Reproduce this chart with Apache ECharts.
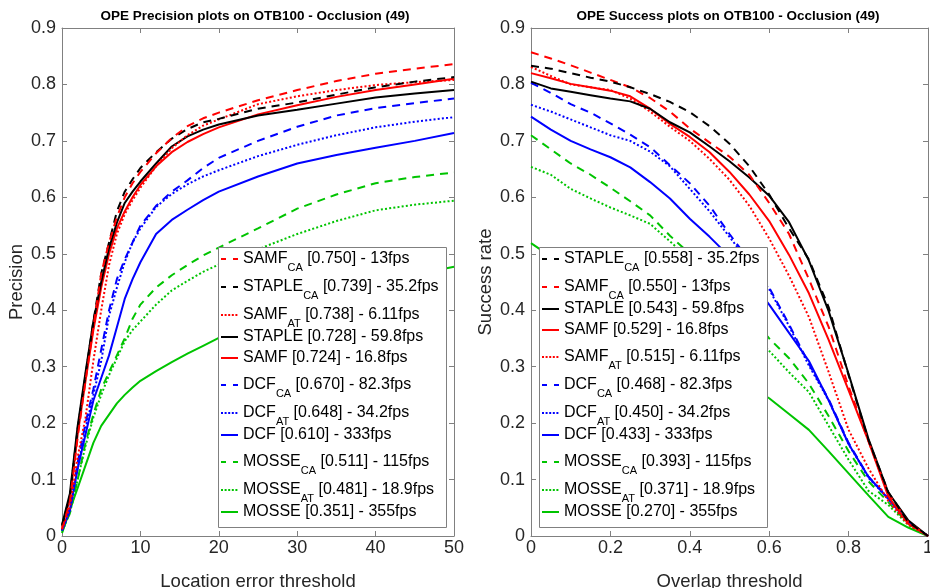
<!DOCTYPE html>
<html>
<head>
<meta charset="utf-8">
<script src="https://cdn.jsdelivr.net/npm/echarts@6/dist/echarts.min.js"></script>
<style>html,body{margin:0;padding:0;background:#fff;}#c{width:930px;height:588px;}</style>
</head>
<body>
<div id="c"></div>
<script>
// ---------- data ----------
const precX = [0,1,2,3,4,5,6,7,8,9,10,12,14,16,18,20,25,30,35,40,45,50];
const precSAMF_CA  = [0.012,0.060,0.175,0.275,0.370,0.465,0.520,0.565,0.600,0.625,0.645,0.678,0.705,0.726,0.740,0.750,0.772,0.790,0.806,0.819,0.828,0.836];
const precSTAPLE_CA= [0.018,0.070,0.190,0.285,0.380,0.465,0.520,0.575,0.610,0.632,0.652,0.680,0.704,0.721,0.733,0.739,0.757,0.768,0.782,0.795,0.805,0.813];
const precSAMF_AT  = [0.012,0.050,0.140,0.210,0.310,0.400,0.480,0.535,0.570,0.595,0.617,0.655,0.687,0.710,0.727,0.738,0.765,0.779,0.790,0.799,0.804,0.808];
const precSTAPLE   = [0.020,0.075,0.195,0.290,0.380,0.450,0.510,0.555,0.590,0.610,0.628,0.660,0.690,0.708,0.720,0.729,0.745,0.755,0.766,0.777,0.784,0.790];
const precSAMF     = [0.015,0.065,0.180,0.275,0.365,0.440,0.500,0.545,0.575,0.600,0.622,0.655,0.680,0.698,0.712,0.724,0.747,0.763,0.778,0.790,0.800,0.810];
const precDCF_CA   = [0.010,0.050,0.130,0.200,0.260,0.330,0.400,0.455,0.490,0.520,0.550,0.585,0.610,0.630,0.652,0.670,0.700,0.725,0.745,0.758,0.767,0.775];
const precDCF_AT   = [0.010,0.045,0.120,0.190,0.250,0.310,0.390,0.440,0.485,0.520,0.545,0.583,0.606,0.623,0.637,0.648,0.673,0.693,0.710,0.724,0.734,0.742];
const precDCF      = [0.010,0.045,0.120,0.180,0.240,0.280,0.320,0.370,0.420,0.455,0.485,0.535,0.560,0.578,0.595,0.610,0.637,0.660,0.675,0.688,0.700,0.714];
const precMOSSE_CA = [0.008,0.040,0.100,0.165,0.215,0.260,0.290,0.320,0.350,0.385,0.410,0.440,0.462,0.480,0.497,0.511,0.545,0.580,0.605,0.625,0.636,0.644];
const precMOSSE_AT = [0.008,0.040,0.100,0.160,0.210,0.250,0.285,0.315,0.345,0.365,0.380,0.410,0.435,0.452,0.468,0.481,0.508,0.535,0.558,0.577,0.587,0.594];
const precMOSSE    = [0.005,0.046,0.085,0.125,0.165,0.195,0.215,0.235,0.250,0.263,0.275,0.292,0.308,0.323,0.337,0.351,0.380,0.405,0.427,0.447,0.463,0.477];

const succX = [0,0.05,0.1,0.15,0.2,0.25,0.3,0.35,0.4,0.45,0.5,0.55,0.6,0.65,0.7,0.75,0.8,0.85,0.9,0.95,1];
const succSTAPLE_CA= [0.833,0.828,0.820,0.812,0.805,0.795,0.783,0.769,0.751,0.726,0.695,0.655,0.605,0.545,0.490,0.405,0.285,0.170,0.078,0.025,0];
const succSAMF_CA  = [0.857,0.846,0.834,0.821,0.808,0.795,0.776,0.752,0.722,0.697,0.672,0.640,0.590,0.535,0.455,0.370,0.265,0.168,0.075,0.025,0];
const succSTAPLE   = [0.805,0.793,0.787,0.781,0.775,0.770,0.757,0.733,0.715,0.690,0.664,0.635,0.603,0.556,0.488,0.398,0.287,0.172,0.077,0.028,0];
const succSAMF     = [0.820,0.811,0.801,0.795,0.789,0.779,0.757,0.730,0.707,0.680,0.645,0.605,0.558,0.498,0.430,0.347,0.258,0.168,0.070,0.022,0];
const succSAMF_AT  = [0.831,0.815,0.800,0.795,0.790,0.775,0.752,0.725,0.700,0.668,0.631,0.585,0.527,0.461,0.388,0.290,0.188,0.120,0.062,0.020,0];
const succDCF_CA   = [0.803,0.785,0.765,0.750,0.731,0.711,0.689,0.657,0.625,0.585,0.535,0.488,0.440,0.375,0.305,0.242,0.165,0.105,0.068,0.025,0];
const succDCF_AT   = [0.764,0.752,0.738,0.724,0.710,0.700,0.681,0.655,0.615,0.575,0.530,0.484,0.437,0.372,0.302,0.240,0.163,0.103,0.066,0.024,0];
const succDCF      = [0.743,0.720,0.700,0.685,0.671,0.653,0.627,0.598,0.562,0.530,0.495,0.455,0.410,0.360,0.310,0.240,0.163,0.105,0.066,0.025,0];
const succMOSSE_CA = [0.710,0.685,0.660,0.640,0.617,0.593,0.568,0.532,0.500,0.465,0.430,0.392,0.350,0.315,0.270,0.212,0.150,0.097,0.060,0.022,0];
const succMOSSE_AT = [0.654,0.640,0.615,0.598,0.582,0.568,0.553,0.522,0.490,0.455,0.415,0.372,0.328,0.290,0.255,0.195,0.135,0.080,0.055,0.020,0];
const succMOSSE    = [0.519,0.495,0.472,0.450,0.430,0.410,0.388,0.365,0.340,0.313,0.290,0.266,0.244,0.216,0.188,0.150,0.111,0.072,0.034,0.015,0];

// tracker: [base, subscript, color, lineType]
const trackers = {
  SAMF_CA:  ['SAMF','CA','#ff0000','dashed'],
  STAPLE_CA:['STAPLE','CA','#000000','dashed'],
  SAMF_AT:  ['SAMF','AT','#ff0000','dotted'],
  STAPLE:   ['STAPLE','','#000000','solid'],
  SAMF:     ['SAMF','','#ff0000','solid'],
  DCF_CA:   ['DCF','CA','#0000ff','dashed'],
  DCF_AT:   ['DCF','AT','#0000ff','dotted'],
  DCF:      ['DCF','','#0000ff','solid'],
  MOSSE_CA: ['MOSSE','CA','#00c400','dashed'],
  MOSSE_AT: ['MOSSE','AT','#00c400','dotted'],
  MOSSE:    ['MOSSE','','#00c400','solid']
};

const precOrder = ['SAMF_CA','STAPLE_CA','SAMF_AT','STAPLE','SAMF','DCF_CA','DCF_AT','DCF','MOSSE_CA','MOSSE_AT','MOSSE'];
const precLabels = ['[0.750] - 13fps','[0.739] - 35.2fps','[0.738] - 6.11fps','[0.728] - 59.8fps','[0.724] - 16.8fps','[0.670] - 82.3fps','[0.648] - 34.2fps','[0.610] - 333fps','[0.511] - 115fps','[0.481] - 18.9fps','[0.351] - 355fps'];
const succOrder = ['STAPLE_CA','SAMF_CA','STAPLE','SAMF','SAMF_AT','DCF_CA','DCF_AT','DCF','MOSSE_CA','MOSSE_AT','MOSSE'];
const succLabels = ['[0.558] - 35.2fps','[0.550] - 13fps','[0.543] - 59.8fps','[0.529] - 16.8fps','[0.515] - 6.11fps','[0.468] - 82.3fps','[0.450] - 34.2fps','[0.433] - 333fps','[0.393] - 115fps','[0.371] - 18.9fps','[0.270] - 355fps'];

const precData = {SAMF_CA:precSAMF_CA, STAPLE_CA:precSTAPLE_CA, SAMF_AT:precSAMF_AT, STAPLE:precSTAPLE, SAMF:precSAMF, DCF_CA:precDCF_CA, DCF_AT:precDCF_AT, DCF:precDCF, MOSSE_CA:precMOSSE_CA, MOSSE_AT:precMOSSE_AT, MOSSE:precMOSSE};
const succData = {SAMF_CA:succSAMF_CA, STAPLE_CA:succSTAPLE_CA, SAMF_AT:succSAMF_AT, STAPLE:succSTAPLE, SAMF:succSAMF, DCF_CA:succDCF_CA, DCF_AT:succDCF_AT, DCF:succDCF, MOSSE_CA:succMOSSE_CA, MOSSE_AT:succMOSSE_AT, MOSSE:succMOSSE};

// ---------- styling ----------
const FONT = 'Liberation Sans, Arial, Helvetica, sans-serif';
const AXIS_COLOR = '#808080';
const TEXT_COLOR = '#262626';
const plotDash = {solid:'solid', dashed:[8,6], dotted:[2,2.2]};
const legendDash = {solid:'solid', dashed:[5,7], dotted:[2,1.6]};

const grids = [
  {left:62, top:28, width:392, height:508, outerBoundsMode:'none', containLabel:false},
  {left:531, top:28, width:397, height:508, outerBoundsMode:'none', containLabel:false}
];

function mkX(gi, pos, max, interval, name, show) {
  return {
    type:'value', gridIndex:gi, position:pos, min:0, max:max, interval:interval,
    name: show ? name : '', nameLocation:'middle', nameGap:36,
    nameTextStyle:{fontFamily:FONT, fontSize:18.5, color:TEXT_COLOR},
    axisLine:{show:true, onZero:false, lineStyle:{color:AXIS_COLOR, width:1}},
    axisTick:{show:true, inside:true, length:5, lineStyle:{color:AXIS_COLOR}},
    axisLabel:{show:show, margin:3, fontFamily:FONT, fontSize:18, color:TEXT_COLOR, hideOverlap:false},
    splitLine:{show:false}
  };
}
function mkY(gi, pos, name, show) {
  return {
    type:'value', gridIndex:gi, position:pos, min:0, max:0.9, interval:0.1,
    name: show ? name : '', nameLocation:'middle', nameGap:36,
    nameTextStyle:{fontFamily:FONT, fontSize:18.5, color:TEXT_COLOR},
    axisLine:{show:true, onZero:false, lineStyle:{color:AXIS_COLOR, width:1}},
    axisTick:{show:true, inside:true, length:5, lineStyle:{color:AXIS_COLOR}},
    axisLabel:{show:show, margin:6, fontFamily:FONT, fontSize:18, color:TEXT_COLOR},
    splitLine:{show:false}
  };
}

const xAxes = [
  mkX(0,'bottom',50,10,'Location error threshold',true),
  mkX(0,'top',50,10,'',false),
  mkX(1,'bottom',1,0.2,'Overlap threshold',true),
  mkX(1,'top',1,0.2,'',false)
];
const yAxes = [
  mkY(0,'left','Precision',true),
  mkY(0,'right','',false),
  mkY(1,'left','Success rate',true),
  mkY(1,'right','',false)
];

const series = [];
const legends = [];
const rich = {
  m:{fontFamily:FONT, fontSize:16, color:'#000', lineHeight:28},
  s:{fontFamily:FONT, fontSize:11, color:'#000', lineHeight:28, verticalAlign:'top', padding:[17,0,0,0]}
};

function addPlot(prefix, order, labels, dataMap, xs, gi, legendLeft) {
  for (let i = order.length - 1; i >= 0; i--) {
    const k = order[i];
    const t = trackers[k];
    const vals = dataMap[k];
    series.push({
      name: prefix + k,
      type:'line', xAxisIndex: gi*2, yAxisIndex: gi*2,
      symbol:'none', showSymbol:false, smooth:false, animation:false, silent:true,
      lineStyle:{color:t[2], width:2, type:plotDash[t[3]]},
      itemStyle:{color:t[2]},
      data: xs.map((x, j) => [x, vals[j]]),
      z: 2
    });
  }
  let center = 259;
  order.forEach((k, i) => {
    const t = trackers[k];
    const label = labels[i];
    legends.push({
      data:[prefix + k],
      left: legendLeft, top: center - 14,
      orient:'vertical', padding:0, itemGap:0,
      itemWidth:17, itemHeight:14,
      selectedMode:false,
      itemStyle:{opacity:0, color:'rgba(0,0,0,0)', borderWidth:0},
      lineStyle:{type: legendDash[t[3]], width:2, color:t[2]},
      textStyle:{rich:rich},
      formatter: function () {
        return t[1] ? ('{m|' + t[0] + '}{s|' + t[1] + '}{m| ' + label + '}') : ('{m|' + t[0] + ' ' + label + '}');
      },
      z: 6
    });
    center += t[1] ? 28 : 21;
  });
}

addPlot('p_', precOrder, precLabels, precData, precX, 0, 220);
addPlot('s_', succOrder, succLabels, succData, succX, 1, 541);

const option = {
  animation:false,
  backgroundColor:'#ffffff',
  title:[
    {text:'OPE Precision plots on OTB100 - Occlusion (49)', left:255, top:9, textAlign:'center', padding:0,
     textStyle:{fontFamily:FONT, fontSize:13.5, fontWeight:'bold', color:'#000'}},
    {text:'OPE Success plots on OTB100 - Occlusion (49)', left:728, top:9, textAlign:'center', padding:0,
     textStyle:{fontFamily:FONT, fontSize:13.5, fontWeight:'bold', color:'#000'}}
  ],
  grid: grids,
  xAxis: xAxes,
  yAxis: yAxes,
  legend: legends,
  graphic:[
    {type:'rect', shape:{x:218.5, y:247.5, width:228, height:280}, style:{fill:'#fff', stroke:'#808080', lineWidth:1}, z:5, silent:true},
    {type:'rect', shape:{x:539.5, y:247.5, width:228, height:280}, style:{fill:'#fff', stroke:'#808080', lineWidth:1}, z:5, silent:true}
  ],
  series: series
};

const chart = echarts.init(document.getElementById('c'), null, {renderer:'canvas'});
chart.setOption(option);
</script>
</body>
</html>
